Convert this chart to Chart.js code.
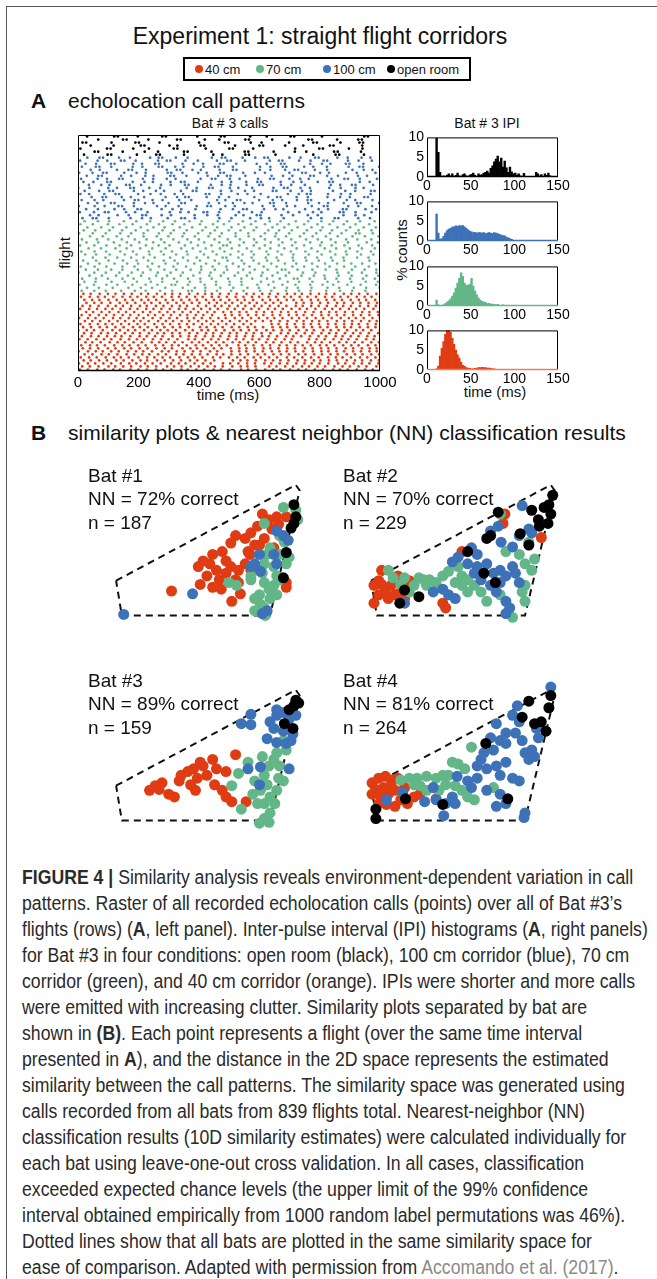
<!DOCTYPE html>
<html>
<head>
<meta charset="utf-8">
<title>Experiment 1: straight flight corridors</title>
<script src="https://cdn.jsdelivr.net/npm/chart.js@4.4.1/dist/chart.umd.min.js"></script>
<style>
body { margin: 0; background: #fff; font-family: "Liberation Sans", Arial, sans-serif; color: #111; }
#fig { position: relative; width: 657px; height: 1279px; overflow: hidden; }
#fig canvas { position: absolute; }
.edge { position: absolute; left: 6px; top: 6px; width: 700px; height: 1300px; border-left: 1.5px solid #555; border-top: 1.5px solid #555; }
.c { position: absolute; transform: translate(-50%, -50%); white-space: nowrap; line-height: 1; }
.l { position: absolute; transform: translateY(-50%); white-space: nowrap; line-height: 1; }
.rot { position: absolute; transform: translate(-50%, -50%) rotate(-90deg); white-space: nowrap; line-height: 1; }
.legend { position: absolute; left: 183px; top: 57px; width: 284px; height: 20px; border: 2px solid #000; }
.dot { position: absolute; width: 8px; height: 8px; border-radius: 50%; transform: translate(-50%, -50%); }
.head { font-size: 21px; }
.bat { font-size: 19px; }
#caption { position: absolute; left: 22px; top: 864px; font-size: 19.5px; line-height: 26px; white-space: nowrap;
  transform: scaleX(0.905); transform-origin: 0 0; color: #2a2a2a; }
#caption .ref { color: #8a8a8a; }
</style>
</head>
<body>
<div id="fig">
  <div class="edge"></div>
  <div class="c" style="left:320px;top:36px;font-size:23px">Experiment 1: straight flight corridors</div>
  <div class="legend"></div>
  <div class="dot" style="left:199px;top:69px;background:#e03c14"></div>
  <div class="l" style="left:205px;top:69px;font-size:13px">40 cm</div>
  <div class="dot" style="left:260px;top:69px;background:#63b687"></div>
  <div class="l" style="left:266px;top:69px;font-size:13px">70 cm</div>
  <div class="dot" style="left:327px;top:69px;background:#3d72b8"></div>
  <div class="l" style="left:333px;top:69px;font-size:13px">100 cm</div>
  <div class="dot" style="left:391px;top:69px;background:#000"></div>
  <div class="l" style="left:397px;top:69px;font-size:13px">open room</div>

  <div class="l head" style="left:31px;top:100px;font-weight:bold">A</div>
  <div class="l head" style="left:68px;top:100px">echolocation call patterns</div>
  <div class="c" style="left:230px;top:123px;font-size:14px">Bat # 3 calls</div>
  <div class="c" style="left:487px;top:123px;font-size:14px">Bat # 3 IPI</div>
  <div class="rot" style="left:64px;top:253px;font-size:15px">flight</div>
  <div class="c" style="left:228px;top:394px;font-size:15px">time (ms)</div>
  <div class="rot" style="left:401px;top:250px;font-size:15px">% counts</div>
  <div class="c" style="left:495px;top:391px;font-size:15px">time (ms)</div>

  <canvas id="raster" width="380" height="300" style="left:30px;top:110px"></canvas>
  <canvas id="h0" width="205" height="73" style="left:380px;top:126px"></canvas>
  <canvas id="h1" width="205" height="73" style="left:380px;top:190px"></canvas>
  <canvas id="h2" width="205" height="73" style="left:380px;top:255px"></canvas>
  <canvas id="h3" width="205" height="73" style="left:380px;top:319px"></canvas>

  <div class="l head" style="left:31px;top:432px;font-weight:bold">B</div>
  <div class="l head" style="left:68px;top:432px">similarity plots &amp; nearest neighbor (NN) classification results</div>

  <canvas id="b1" width="250" height="180" style="left:80px;top:455px"></canvas>
  <canvas id="b2" width="250" height="180" style="left:335px;top:455px"></canvas>
  <canvas id="b3" width="250" height="180" style="left:80px;top:660px"></canvas>
  <canvas id="b4" width="250" height="180" style="left:335px;top:660px"></canvas>

  <div class="l bat" style="left:88px;top:475px">Bat #1</div>
  <div class="l bat" style="left:88px;top:498px">NN = 72% correct</div>
  <div class="l bat" style="left:88px;top:522px">n = 187</div>
  <div class="l bat" style="left:343px;top:475px">Bat #2</div>
  <div class="l bat" style="left:343px;top:498px">NN = 70% correct</div>
  <div class="l bat" style="left:343px;top:522px">n = 229</div>
  <div class="l bat" style="left:88px;top:680px">Bat #3</div>
  <div class="l bat" style="left:88px;top:703px">NN = 89% correct</div>
  <div class="l bat" style="left:88px;top:727px">n = 159</div>
  <div class="l bat" style="left:343px;top:680px">Bat #4</div>
  <div class="l bat" style="left:343px;top:703px">NN = 81% correct</div>
  <div class="l bat" style="left:343px;top:727px">n = 264</div>

  <div id="caption"><b>FIGURE 4 |</b> Similarity analysis reveals environment-dependent variation in call<br>patterns. Raster of all recorded echolocation calls (points) over all of Bat #3’s<br>flights (rows) (<b>A</b>, left panel). Inter-pulse interval (IPI) histograms (<b>A</b>, right panels)<br>for Bat #3 in four conditions: open room (black), 100 cm corridor (blue), 70 cm<br>corridor (green), and 40 cm corridor (orange). IPIs were shorter and more calls<br>were emitted with increasing clutter. Similarity plots separated by bat are<br>shown in <b>(B)</b>. Each point represents a flight (over the same time interval<br>presented in <b>A</b>), and the distance in the 2D space represents the estimated<br>similarity between the call patterns. The similarity space was generated using<br>calls recorded from all bats from 839 flights total. Nearest-neighbor (NN)<br>classification results (10D similarity estimates) were calculated individually for<br>each bat using leave-one-out cross validation. In all cases, classification<br>exceeded expected chance levels (the upper limit of the 99% confidence<br>interval obtained empirically from 1000 random label permutations was 46%).<br>Dotted lines show that all bats are plotted in the same similarity space for<br>ease of comparison. Adapted with permission from <span class="ref">Accomando et al. (2017)</span>.</div>
</div>

<script>
// condition colours
const RED = '#e03c14', GREEN = '#63b687', BLUE = '#3d72b8', BLACK = '#000000';

// Raster rows: first number = time of first call (ms), then inter-pulse intervals (ms)
const redRows = [
  "6 27 31 24 29 22 35 26 28 30 24 27 33 21 29 26 31 25 28 38 23 27 30 26 24 32 28 25 29 27 34 22 26 30 28 25 31 27",
  "14 25 29 33 22 27 26 31 24 28 36 23 25 30 27 29 24 26 32 28 22 27 45 24 29 26 30 23 28 25 31 27 24 29 26 33 25 28",
  "3 30 24 27 26 32 28 23 29 25 27 34 26 22 30 28 25 41 24 27 29 26 31 23 28 25 30 27 24 26 29 32 24 28 27 25 30 26",
  "19 23 28 26 31 24 29 27 22 33 25 28 26 30 24 27 29 62 25 23 28 31 26 24 27 30 25 29 22 28 26 33 27 24 29 26 31 25",
  "9 28 25 30 27 23 26 32 29 24 27 25 31 28 22 26 35 24 29 27 25 30 23 28 26 33 24 27 29 25 31 26 22 28 30 24 27 26",
  "22 26 30 24 28 31 25 27 23 29 26 34 24 28 27 25 30 22 27 29 26 32 24 28 25 27 31 23 29 26 28 24 30 27 25 29 26 28",
  "2 31 26 23 28 25 30 27 24 29 33 22 27 26 28 25 31 24 47 26 23 28 27 30 25 24 29 26 32 28 23 27 25 30 26 28 24 29",
  "16 24 27 32 25 29 23 28 26 30 27 24 35 26 22 29 27 25 31 28 24 26 30 23 27 29 25 33 26 28 24 27 30 25 29 26 23 28",
  "11 29 23 26 31 27 24 28 25 32 26 29 22 27 30 24 28 26 25 38 23 27 29 26 31 24 28 25 27 30 22 26 29 27 24 31 25 28",
  "25 22 28 30 26 24 29 27 33 25 23 28 26 31 24 29 27 25 30 23 28 26 34 24 27 29 25 31 26 22 28 30 24 27 26 29 25 27",
  "5 27 29 25 24 31 28 26 23 30 27 25 29 36 22 26 28 24 31 27 25 29 23 28 26 30 24 57 25 27 29 26 23 28 31 25 27 26",
  "13 30 25 28 26 22 29 31 24 27 25 33 26 28 23 30 27 24 29 25 28 26 31 22 27 30 24 26 29 28 25 32 23 27 26 29 24 28",
  "20 25 31 23 27 29 26 24 30 28 22 27 25 32 26 29 24 28 27 23 31 25 26 29 35 24 27 28 25 30 26 23 29 27 24 28 31 26",
  "1 28 24 29 32 25 27 23 30 26 28 24 27 31 25 29 22 26 28 30 24 27 25 33 23 28 26 29 27 24 31 25 26 28 30 23 27 29",
  "17 26 29 24 28 27 31 23 26 30 25 28 24 29 37 22 27 26 30 25 28 24 27 31 26 23 29 25 28 27 24 30 26 22 29 27 25 28",
  "8 31 27 25 23 29 26 28 24 32 27 25 30 26 22 28 29 24 27 26 31 25 68 23 28 26 29 24 27 30 25 28 26 23 29 27 24 30",
  "23 24 26 30 28 25 29 22 27 31 26 24 28 25 30 27 23 29 26 32 24 28 25 27 29 26 30 23 28 24 27 31 25 26 29 28 24 27",
  "4 29 25 27 31 24 28 26 23 30 27 29 25 34 22 26 28 27 24 30 25 29 26 28 23 27 31 24 26 29 25 28 30 27 23 26 29 25",
  "12 27 30 24 26 29 25 28 31 23 27 26 30 24 28 25 29 43 22 26 28 27 24 30 25 29 26 23 28 31 24 27 25 29 26 28 30 24",
  "27 23 28 26 30 25 27 29 24 31 26 22 28 27 25 30 24 29 26 28 23 33 25 27 29 24 26 30 28 25 27 23 29 26 31 24 28 26",
  "7 30 26 28 23 27 31 25 29 24 26 28 30 22 27 25 29 26 32 24 28 27 25 30 23 26 29 27 24 28 31 25 26 29 24 27 30 25",
  "15 25 28 31 26 24 27 29 23 30 25 28 26 24 36 27 29 22 26 28 25 30 24 27 29 26 31 23 28 25 27 30 24 26 29 28 25 27",
  "0 28 26 24 29 31 25 27 30 23 28 26 29 24 27 25 32 26 28 23 30 27 24 29 26 25 51 24 27 28 26 30 23 29 25 27 28 26",
  "21 26 24 30 27 28 25 29 23 26 31 24 28 27 25 30 26 22 29 27 24 28 31 25 26 29 23 27 30 24 28 26 25 29 27 24 30 26",
  "10 29 27 23 28 30 26 24 29 25 27 32 24 26 28 25 30 23 27 29 26 28 24 31 25 27 22 29 26 28 30 24 27 25 29 26 23 28",
  "18 24 30 27 25 28 26 31 23 29 27 24 26 30 28 25 22 27 29 26 33 24 28 25 27 30 26 23 29 28 24 27 31 25 26 28 29 24"
];
const greenRows = [
  "12 42 38 51 45 36 48 40 53 12 44 39 47 41 55 37 49 43 38 52 46 40 44 50 41",
  "30 39 46 52 41 37 44 58 40 35 49 43 47 38 51 42 36 45 53 39 48 41 44 37 50",
  "5 48 41 36 50 44 39 47 12 42 55 38 45 40 52 37 46 43 49 41 35 47 44 51 39",
  "21 37 53 44 40 46 38 49 42 36 51 45 39 65 41 47 38 44 50 36 43 48 40 45 42",
  "14 45 40 48 37 52 43 39 46 41 38 54 44 36 49 42 47 12 40 51 38 45 43 39 48",
  "38 41 47 39 44 50 36 45 42 53 38 46 40 48 37 44 52 41 35 47 43 49 39 45 41",
  "2 52 38 45 41 37 49 43 40 56 36 44 47 39 42 50 38 46 41 73 37 44 48 40 43",
  "26 40 44 37 51 42 46 39 48 35 45 41 53 38 43 47 12 40 49 44 36 51 42 39 46",
  "9 46 39 53 40 44 37 48 42 50 38 45 41 36 47 43 52 39 44 40 48 37 45 42 49",
  "33 38 50 42 36 47 44 40 55 39 43 46 37 49 41 45 38 52 43 40 47 36 44 48 41",
  "17 43 41 48 45 38 52 36 44 40 49 42 47 39 45 37 50 43 41 46 38 84 40 44 39",
  "0 49 42 39 46 41 37 51 43 45 38 48 12 40 44 47 36 53 42 39 46 41 45 38 50",
  "24 36 45 50 39 43 47 41 38 54 42 46 40 37 48 44 39 51 43 45 38 47 41 42 49",
  "11 44 38 47 42 53 40 36 49 45 41 39 46 43 50 37 44 48 40 42 52 38 45 41 47",
  "35 41 48 37 45 40 44 52 38 43 47 39 50 42 36 46 41 49 44 38 45 40 43 51 37",
  "7 47 40 44 38 49 42 36 51 43 45 39 12 41 48 37 46 44 40 53 38 42 47 45 39",
  "28 39 52 43 41 46 37 48 40 44 50 36 45 42 47 39 43 49 38 46 41 62 37 44 40",
  "13 50 37 45 43 39 48 41 46 38 52 44 40 47 36 45 42 49 39 43 51 37 46 40 44",
  "40 42 46 39 50 44 38 47 41 45 37 53 43 40 48 36 46 42 44 39 49 41 45 38 47",
  "4 45 43 48 36 41 51 39 44 47 40 38 46 42 55 37 43 49 41 45 39 47 12 44 40",
  "19 38 47 42 45 40 49 37 43 52 41 46 39 44 48 36 42 50 45 38 47 41 43 46 39",
  "31 46 39 44 48 42 37 50 41 45 38 47 43 40 53 39 44 46 37 49 42 45 40 48 41",
  "8 41 50 38 44 47 40 45 39 52 43 36 48 42 46 41 38 51 44 40 47 39 45 43 42",
  "22 44 37 49 41 46 43 39 48 40 54 38 45 42 47 36 50 41 44 39 46 43 48 40 45"
];
const blueRows = [
  "15 34 12 41 72 38 29 56 45 12 33 81 40 62 36 27 48 90 35 44 12 66 39 58 41 47",
  "40 28 63 37 45 12 52 31 78 42 35 59 26 44 12 70 38 49 33 85 40 29 54 37 46 52",
  "6 47 36 12 58 30 41 74 35 27 50 12 39 66 43 32 88 37 45 28 61 12 40 53 34 48",
  "27 39 55 32 44 12 68 36 29 47 83 41 34 12 57 38 26 72 45 31 49 12 63 35 42 57",
  "3 52 33 46 12 39 77 28 43 60 35 12 48 31 92 37 44 27 55 40 12 69 33 46 38 45",
  "33 31 45 12 64 37 28 50 42 12 79 34 46 38 27 58 12 41 73 36 30 52 44 12 61 40",
  "12 43 29 68 36 12 47 33 55 40 86 27 38 12 62 45 31 49 35 12 76 42 28 57 39 44",
  "45 36 12 52 30 44 71 38 27 12 59 41 33 84 46 29 12 53 37 65 42 32 48 12 70 39",
  "8 29 50 37 12 63 41 34 46 28 75 12 39 55 32 44 90 36 27 12 58 43 31 67 38 46",
  "22 48 34 12 69 31 42 27 56 39 12 81 35 45 30 62 12 47 38 29 73 41 33 52 12 58",
  "1 37 62 29 44 12 51 36 88 33 41 12 57 28 46 70 35 12 43 31 64 38 49 27 55 42",
  "36 41 27 55 12 38 66 32 47 12 74 36 29 53 42 12 60 34 45 86 31 39 12 58 44 37",
  "18 33 46 12 72 39 28 58 35 12 44 79 31 50 37 12 65 42 27 54 38 12 89 33 47 41",
  "10 55 31 40 12 67 34 45 29 83 37 12 48 32 61 40 12 52 36 28 75 43 12 39 57 46",
  "29 38 12 64 33 47 27 56 12 41 70 35 29 12 49 87 38 31 59 12 44 36 66 30 45 53",
  "4 44 35 12 58 41 30 73 12 37 52 28 45 12 64 39 33 81 42 12 48 29 56 36 62 40",
  "42 30 57 38 12 46 69 33 12 40 28 62 44 12 77 35 49 31 12 55 41 84 37 29 50 43",
  "13 46 12 39 71 32 54 12 43 27 66 38 12 48 90 34 41 12 59 30 45 72 36 12 53 47",
  "25 35 49 12 62 29 44 12 78 37 31 56 12 42 68 33 47 12 85 39 28 51 12 46 60 38",
  "7 58 32 45 12 37 74 29 12 50 41 63 34 12 47 82 30 12 55 38 43 12 69 35 44 52",
  "31 40 12 53 36 67 28 12 45 39 80 33 12 57 42 30 12 71 37 48 12 62 34 46 29 55 44"
];
const blackRows = [
  "20 78 12 85 64 12 80 97 30 76 12 88 125 74 12 82 58 90",
  "55 12 81 73 44 86 12 79 110 12 84 70 38 92 12 77 65 83",
  "8 88 12 75 52 82 12 94 78 12 67 139 80 12 86 45 79 12",
  "42 76 90 12 83 26 77 12 102 81 12 73 60 88 12 95 71 12",
  "15 12 84 79 12 68 131 85 12 74 36 91 80 12 78 63 12 87",
  "67 82 12 72 95 12 80 48 86 12 77 120 12 83 70 12 89 75",
  "30 90 12 66 81 12 104 78 12 85 55 79 12 92 140 12 76 84"
];

// IPI histograms, 2 ms bins (bin centres in ms), % counts
const ipiBins = [1,3,5,7,9,11,13,15,17,19,21,23,25,27,29,31,33,35,37,39,41,43,45,47,49,51,53,55,57,59,
  61,63,65,67,69,71,73,75,77,79,81,83,85,87,89,91,93,95,97,99,101,103,105,107,109,111,113,115,117,119,
  121,123,125,127,129,131,133,135,137,139,141,143,145,147,149];
const ipiOpenRoom = [0,0,0,0,0,9.8,6.2,1.2,0,0.3, 0,0.5,0.8,0.3,0.8,0,0.4,1.0,0.3,0,
  0.6,0.8,0.3,0,0.5,0.7,1.0,0.4,0,0.8, 0.5,0.6,1.0,1.2,1.5,1.0,2.2,2.8,3.8,4.5,
  5.3,3.8,4.8,2.5,4.0,2.3,1.2,2.5,1.3,0.8, 1.0,0.5,0.8,0.3,0,0.9,0,0,0,0,
  0,0,1.2,0.8,0.3,0.6,0,0.8,0.4,1.0, 0.3,0,0,0,0];
const ipi100cm = [0,0,0,0,0,6.8,2.0,0.5,0.6,1.2, 2.0,2.6,3.0,3.2,3.5,3.6,3.8,3.7,3.9,3.8,
  3.9,3.6,3.2,2.8,2.5,2.3,2.1,2.2,2.0,2.1, 2.1,2.0,2.1,1.9,2.0,2.1,2.0,1.9,2.1,2.0,
  1.9,1.7,1.5,1.4,1.3,1.0,0.8,0.6,0.4,0.2, 0,0,0,0,0,0,0,0,0,0,
  0,0,0,0,0,0,0,0,0,0, 0,0,0,0,0];
const ipi70cm = [0,0,0,0,0,1.5,0.3,0,0,0.3, 0.6,1.0,1.3,1.8,2.5,3.3,4.5,5.8,7.0,8.4,
  7.5,5.8,5.2,5.3,5.5,7.0,5.0,3.8,2.8,2.0, 1.5,1.2,1.0,0.9,0.6,0.7,0.5,0.5,0.4,0.3,
  0.4,0.2,0.2,0.3,0.1,0,0,0,0,0, 0,0,0,0,0,0,0,0,0,0,
  0,0,0,0,0,0,0,0,0,0, 0,0,0,0,0];
const ipi40cm = [0,0,0,0,0,0.3,1.0,3.5,5.5,7.2, 9.0,10.5,11,9.5,8.0,6.5,5.0,3.8,3.0,2.0,
  1.2,0.9,0.6,0.5,0.4,0.3,0.3,0.4,0.5,0.6, 0.6,0.7,0.6,0.6,0.5,0.5,0.4,0.3,0.3,0.2,
  0.2,0.2,0.1,0.1,0.1,0.1,0,0,0,0, 0,0,0,0,0,0,0,0,0,0,
  0,0,0,0,0,0,0,0,0,0, 0,0,0,0,0];
const rasterTicks = [0, 200, 400, 600, 800, 1000];
const ipiTicks = [0, 50, 100, 150];
const pctTicks = [0, 5, 10];

// Similarity space coordinates per bat (x, y) for each condition
const simOutline = [[32,128],[220,26],[224,32],[193,165],[38,165],[32,128]];

const bat1Red = [[90,139],[118,113],[123,107],[133,100],[143,97],[147,107],[137,117],[127,123],[120,132],[133,135],[142,137],[153,150],[162,142],[157,127],[160,117],[152,113],[147,120],[140,127],[157,80],[167,83],[173,77],[180,70],[185,57],[192,63],[200,60],[177,90],[187,83],[195,73],[170,97],[167,110],[173,117],[182,90],[197,93],[207,83],[210,60],[202,68],[210,130],[210,135],[160,130],[172,100],[152,88],[130,110]];
const bat1Green = [[187,67],[207,50],[220,53],[222,63],[193,93],[190,100],[187,110],[185,120],[187,130],[192,137],[197,133],[200,123],[197,113],[203,100],[210,110],[213,103],[182,143],[183,153],[177,147],[180,160],[188,165],[187,157],[193,147],[200,143],[203,127],[150,130],[158,133],[173,127],[177,160],[173,123],[203,80],[208,87]];
const bat1Blue = [[40,164],[112,142],[177,110],[182,100],[183,118],[200,75],[207,80],[212,85],[197,100],[200,110],[190,160],[185,163],[173,113]];
const bat1Black = [[218,47],[220,60],[218,67],[215,72],[210,98],[207,125]];

const bat2Red = [[35,133],[40,128],[43,117],[47,140],[53,133],[57,143],[63,140],[40,143],[35,152],[50,147],[67,147],[60,123],[72,128],[107,152],[110,157],[127,97],[172,57],[170,67],[210,82],[43,132]];
const bat2Green = [[50,117],[55,125],[67,125],[77,133],[82,125],[87,127],[93,127],[100,130],[107,123],[113,118],[123,113],[127,123],[133,127],[140,133],[147,140],[153,150],[133,140],[127,133],[120,130],[167,57],[173,97],[187,100],[193,110],[200,117],[203,105],[197,87],[193,133],[190,140],[167,143],[180,167],[193,150],[72,140],[90,133],[63,132]];
const bat2Blue = [[190,48],[157,75],[165,70],[168,87],[180,92],[137,93],[143,100],[117,108],[123,103],[133,110],[143,113],[153,110],[160,120],[167,117],[173,123],[180,113],[183,120],[187,130],[167,130],[157,133],[147,127],[140,120],[107,137],[97,140],[113,143],[120,147],[173,150],[177,157],[173,163],[200,77],[197,73],[187,80],[67,152],[163,140]];
const bat2Black = [[165,55],[200,53],[213,50],[218,47],[222,37],[220,57],[217,67],[208,70],[207,63],[188,78],[197,90],[157,80],[153,83],[133,97],[150,120],[162,130],[67,138],[82,145],[62,152]];

const bat3Red = [[67,133],[73,128],[80,125],[87,137],[93,140],[100,117],[107,113],[113,110],[117,120],[110,127],[115,133],[123,107],[127,117],[133,100],[137,110],[147,113],[135,127],[143,133],[147,140],[153,145],[168,145],[157,95],[120,103],[98,123],[77,132]];
const bat3Green = [[153,128],[163,153],[160,115],[170,103],[175,137],[180,147],[187,117],[190,127],[192,107],[197,100],[200,93],[203,107],[207,80],[193,140],[200,133],[198,147],[193,157],[187,163],[182,168],[192,167],[187,147],[183,133],[177,123],[207,123],[202,120],[185,97],[210,90]];
const bat3Blue = [[163,62],[173,63],[173,52],[193,60],[200,53],[207,50],[213,57],[220,53],[200,47],[197,67],[207,70],[217,73],[190,78],[200,82],[210,83],[215,80],[170,110],[183,108],[182,127],[213,110]];
const bat3Black = [[220,37],[223,40],[218,43],[213,47],[208,62],[217,67]];

const bat4Red = [[33,125],[37,132],[40,120],[47,118],[53,122],[60,120],[33,137],[42,140],[50,137],[57,133],[67,130],[63,143],[57,150],[70,147],[77,140],[83,137],[45,130],[53,128],[100,142],[40,147],[48,148]];
const bat4Green = [[63,122],[72,120],[80,120],[90,118],[100,120],[107,117],[113,117],[117,103],[123,105],[130,110],[137,87],[97,130],[103,133],[110,127],[120,128],[127,133],[133,140],[140,143],[83,128],[90,133],[160,130],[77,127]];
const bat4Blue = [[220,23],[185,43],[180,53],[187,60],[163,62],[173,72],[183,72],[190,80],[193,93],[200,90],[203,97],[197,100],[173,83],[167,80],[160,90],[150,93],[147,100],[143,107],[153,110],[163,107],[173,103],[167,117],[180,120],[187,123],[143,120],[133,123],[137,130],[153,133],[167,137],[173,147],[163,150],[117,140],[120,147],[110,147],[100,143],[88,145],[97,130],[108,160],[193,157],[192,162],[48,143],[65,135],[207,77],[205,67],[157,77],[122,118]];
const bat4Black = [[220,32],[197,38],[218,45],[190,55],[203,62],[210,60],[215,70],[152,83],[68,142],[107,148],[175,142],[37,153],[37,163]];

Chart.defaults.font.family = '"Liberation Sans", Arial, sans-serif';
Chart.defaults.color = '#000';
Chart.defaults.animation = false;

// Box frame round the plot area (bottom edge may take the series colour)
const framePlugin = {
    id: 'frame',
    afterDatasetsDraw(chart, args, opts) {
        const a = chart.chartArea;
        const ctx = chart.ctx;
        ctx.save();
        ctx.lineWidth = 1;
        ctx.strokeStyle = '#000';
        ctx.beginPath();
        ctx.moveTo(a.left + 0.5, a.bottom);
        ctx.lineTo(a.left + 0.5, a.top + 0.5);
        ctx.lineTo(a.right - 0.5, a.top + 0.5);
        ctx.lineTo(a.right - 0.5, a.bottom);
        ctx.stroke();
        ctx.strokeStyle = opts.bottom || '#000';
        ctx.lineWidth = 1.5;
        ctx.beginPath();
        ctx.moveTo(a.left, a.bottom - 0.5);
        ctx.lineTo(a.right, a.bottom - 0.5);
        ctx.stroke();
        ctx.restore();
    }
};

function callTimes(row) {
    const v = row.split(' ').map(Number);
    const out = [];
    let t = v[0];
    out.push(t);
    for (let i = 1; i < v.length; i++) {
        t += v[i];
        if (t <= 1000) out.push(t);
    }
    return out;
}

// Raster: flights stacked bottom to top, 40 cm, 70 cm, 100 cm, open room
let flight = 0;
function rasterSet(rows, color) {
    const pts = [];
    rows.forEach(row => {
        flight++;
        callTimes(row).forEach(t => pts.push({ x: t, y: flight }));
    });
    return { data: pts, backgroundColor: color, borderWidth: 0, pointRadius: 1.35, pointHoverRadius: 1.35 };
}
const rasterSets = [
    rasterSet(redRows, RED),
    rasterSet(greenRows, GREEN),
    rasterSet(blueRows, BLUE),
    rasterSet(blackRows, BLACK)
];

new Chart(document.getElementById('raster'), {
    type: 'scatter',
    data: { datasets: rasterSets },
    options: {
        responsive: false,
        layout: { padding: { top: 25, right: 30, left: 0, bottom: 0 } },
        plugins: { legend: { display: false }, tooltip: { enabled: false }, frame: {} },
        scales: {
            x: {
                type: 'linear', min: 0, max: 1000,
                afterBuildTicks: s => { s.ticks = rasterTicks.map(v => ({ value: v })); },
                ticks: { font: { size: 15 }, padding: 3, maxRotation: 0, autoSkip: false, callback: v => String(v) },
                grid: { display: false, drawTicks: false },
                border: { display: false },
                afterFit: s => { s.height = 39; }
            },
            y: {
                min: 0.5, max: flight + 0.5,
                ticks: { display: false },
                grid: { display: false, drawTicks: false },
                border: { display: false },
                afterFit: s => { s.width = 48; }
            }
        }
    },
    plugins: [framePlugin]
});

// IPI histograms
const histDefs = [
    ['h0', ipiOpenRoom, BLACK, BLACK],
    ['h1', ipi100cm, BLUE, BLUE],
    ['h2', ipi70cm, GREEN, GREEN],
    ['h3', ipi40cm, RED, '#ee7f66']
];
histDefs.forEach(([id, vals, color, base]) => {
    new Chart(document.getElementById(id), {
        type: 'bar',
        data: {
            datasets: [{
                data: ipiBins.map((b, i) => ({ x: b, y: vals[i] })),
                backgroundColor: color,
                borderWidth: 0,
                barPercentage: 1,
                categoryPercentage: 1
            }]
        },
        options: {
            responsive: false,
            layout: { padding: { top: 8, right: 27, left: 0, bottom: 0 } },
            plugins: { legend: { display: false }, tooltip: { enabled: false }, frame: { bottom: base } },
            scales: {
                x: {
                    type: 'linear', min: 0, max: 150, offset: false,
                    afterBuildTicks: s => { s.ticks = ipiTicks.map(v => ({ value: v })); },
                    ticks: { font: { size: 14 }, padding: 1, maxRotation: 0, autoSkip: false, callback: v => String(v) },
                    grid: { display: false, drawTicks: false },
                    border: { display: false },
                    afterFit: s => { s.height = 22; }
                },
                y: {
                    min: 0, max: 10,
                    afterBuildTicks: s => { s.ticks = pctTicks.map(v => ({ value: v })); },
                    ticks: { font: { size: 14 }, padding: 3 },
                    grid: { display: false, drawTicks: false },
                    border: { display: false },
                    afterFit: s => { s.width = 47; }
                }
            }
        },
        plugins: [framePlugin]
    });
});

// Similarity plots
function simPoints(list) {
    return list.map(p => ({ x: p[0], y: p[1] }));
}
function simChart(id, red, green, blue, black) {
    const dot = (list, color, order) => ({
        data: simPoints(list), backgroundColor: color, borderWidth: 0,
        pointRadius: 5.5, pointHoverRadius: 5.5, order: order
    });
    new Chart(document.getElementById(id), {
        type: 'scatter',
        data: {
            datasets: [
                {
                    data: simPoints(simOutline), showLine: true, borderColor: '#111', borderWidth: 2,
                    borderDash: [7, 5], pointRadius: 0, fill: false, order: 10
                },
                dot(red, RED, 4),
                dot(green, GREEN, 3),
                dot(blue, BLUE, 2),
                dot(black, BLACK, 1)
            ]
        },
        options: {
            responsive: false,
            layout: { padding: 0 },
            plugins: { legend: { display: false }, tooltip: { enabled: false } },
            scales: {
                x: { display: false, min: 0, max: 250 },
                y: { display: false, min: 0, max: 180, reverse: true }
            }
        }
    });
}
simChart('b1', bat1Red, bat1Green, bat1Blue, bat1Black);
simChart('b2', bat2Red, bat2Green, bat2Blue, bat2Black);
simChart('b3', bat3Red, bat3Green, bat3Blue, bat3Black);
simChart('b4', bat4Red, bat4Green, bat4Blue, bat4Black);
</script>
</body>
</html>
